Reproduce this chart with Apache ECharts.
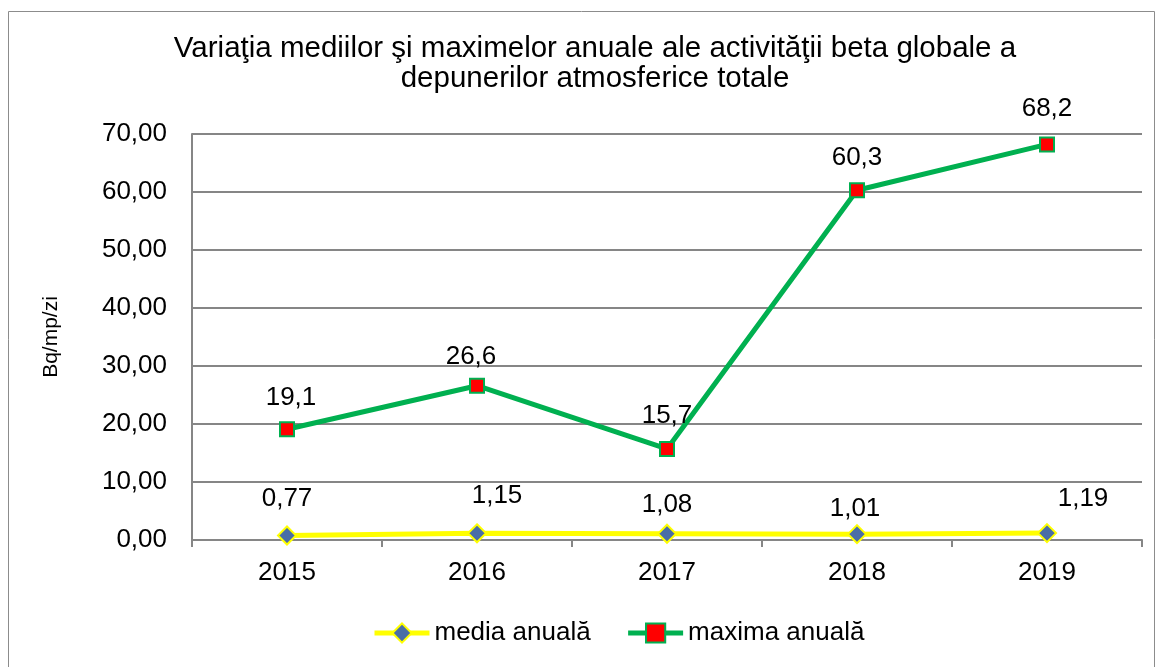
<!DOCTYPE html>
<html>
<head>
<meta charset="utf-8">
<script src="https://cdn.jsdelivr.net/npm/echarts@6/dist/echarts.min.js"></script>
<style>
  html, body { margin: 0; padding: 0; background: #fff; }
  #main { width: 1160px; height: 667px; }
</style>
</head>
<body>
<div id="main"></div>
<script>
// date
const years = ['2015', '2016', '2017', '2018', '2019'];
const mediaAnuala = [0.77, 1.15, 1.08, 1.01, 1.19];
const maximaAnuala = [19.1, 26.6, 15.7, 60.3, 68.2];
const mediaText = ['0,77', '1,15', '1,08', '1,01', '1,19'];
const maximaText = ['19,1', '26,6', '15,7', '60,3', '68,2'];

const font = 'Liberation Sans, Arial, sans-serif';
// deplasari etichete (ca in Excel)
const mediaLabelShift = [[0, -4], [20, -5], [0, 4], [-2, 8], [36, -1]];
const maximaLabelShift = [[4, 0], [-6, 2], [0, -2], [0, -1], [0, -5]];

let myChart = echarts.init(document.getElementById('main'));
myChart.setOption({
  animation: false,
  textStyle: {fontFamily: font},
  title: {
    text: 'Variaţia mediilor şi maximelor anuale ale activităţii beta globale a\ndepunerilor atmosferice totale',
    left: 590,
    textAlign: 'center',
    top: 29,
    textStyle: {fontSize: 29.5, fontWeight: 'normal', color: '#000', lineHeight: 30, fontFamily: font}
  },
  graphic: [{
    type: 'rect',
    shape: {x: 8.5, y: 11.5, width: 1146, height: 670},
    style: {fill: 'none', stroke: '#8c8c8c', lineWidth: 1}
  }],
  legend: {
    bottom: 16,
    left: 367,
    itemWidth: 55,
    itemHeight: 24,
    itemGap: 35,
    lineStyle: {width: 5},
    itemStyle: {borderWidth: 2},
    textStyle: {fontSize: 26, color: '#000', fontFamily: font},
    data: ['media anuală', 'maxima anuală']
  },
  grid: {left: 192, right: 18, top: 134, bottom: 127},
  xAxis: {
    type: 'category',
    data: years,
    boundaryGap: true,
    axisLine: {lineStyle: {color: '#868686', width: 2}},
    axisTick: {show: true, length: 7, lineStyle: {color: '#868686', width: 2}},
    axisLabel: {fontSize: 26, color: '#000', margin: 20, fontFamily: font}
  },
  yAxis: {
    type: 'value',
    min: 0,
    max: 70,
    interval: 10,
    name: 'Bq/mp/zi',
    nameLocation: 'middle',
    nameRotate: 90,
    nameGap: 130,
    nameTextStyle: {fontSize: 21, color: '#000', fontFamily: font},
    axisLine: {show: true, lineStyle: {color: '#868686', width: 2}},
    axisTick: {show: false},
    axisLabel: {
      fontSize: 26, color: '#000', margin: 25, fontFamily: font,
      formatter: v => v.toFixed(2).replace('.', ',')
    },
    splitLine: {lineStyle: {color: '#868686', width: 2}}
  },
  series: [
    {
      name: 'media anuală',
      type: 'line',
      data: mediaAnuala.map((v, i) => ({
        value: v,
        label: {offset: mediaLabelShift[i]}
      })),
      symbol: 'diamond',
      symbolSize: 18,
      z: 3,
      lineStyle: {color: '#ffff00', width: 5},
      itemStyle: {color: '#4a6ea6', borderColor: '#ffff00', borderWidth: 2},
      label: {
        show: true,
        position: 'top',
        distance: 10,
        fontSize: 26,
        color: '#000',
        fontFamily: font,
        formatter: p => mediaText[p.dataIndex]
      }
    },
    {
      name: 'maxima anuală',
      type: 'line',
      data: maximaAnuala.map((v, i) => ({
        value: v,
        label: {offset: maximaLabelShift[i]}
      })),
      symbol: 'rect',
      symbolSize: 14,
      z: 4,
      lineStyle: {color: '#00b050', width: 5},
      itemStyle: {color: '#ff0000', borderColor: '#00b050', borderWidth: 2},
      label: {
        show: true,
        position: 'top',
        distance: 10,
        fontSize: 26,
        color: '#000',
        fontFamily: font,
        formatter: p => maximaText[p.dataIndex]
      }
    }
  ]
});
</script>
</body>
</html>
